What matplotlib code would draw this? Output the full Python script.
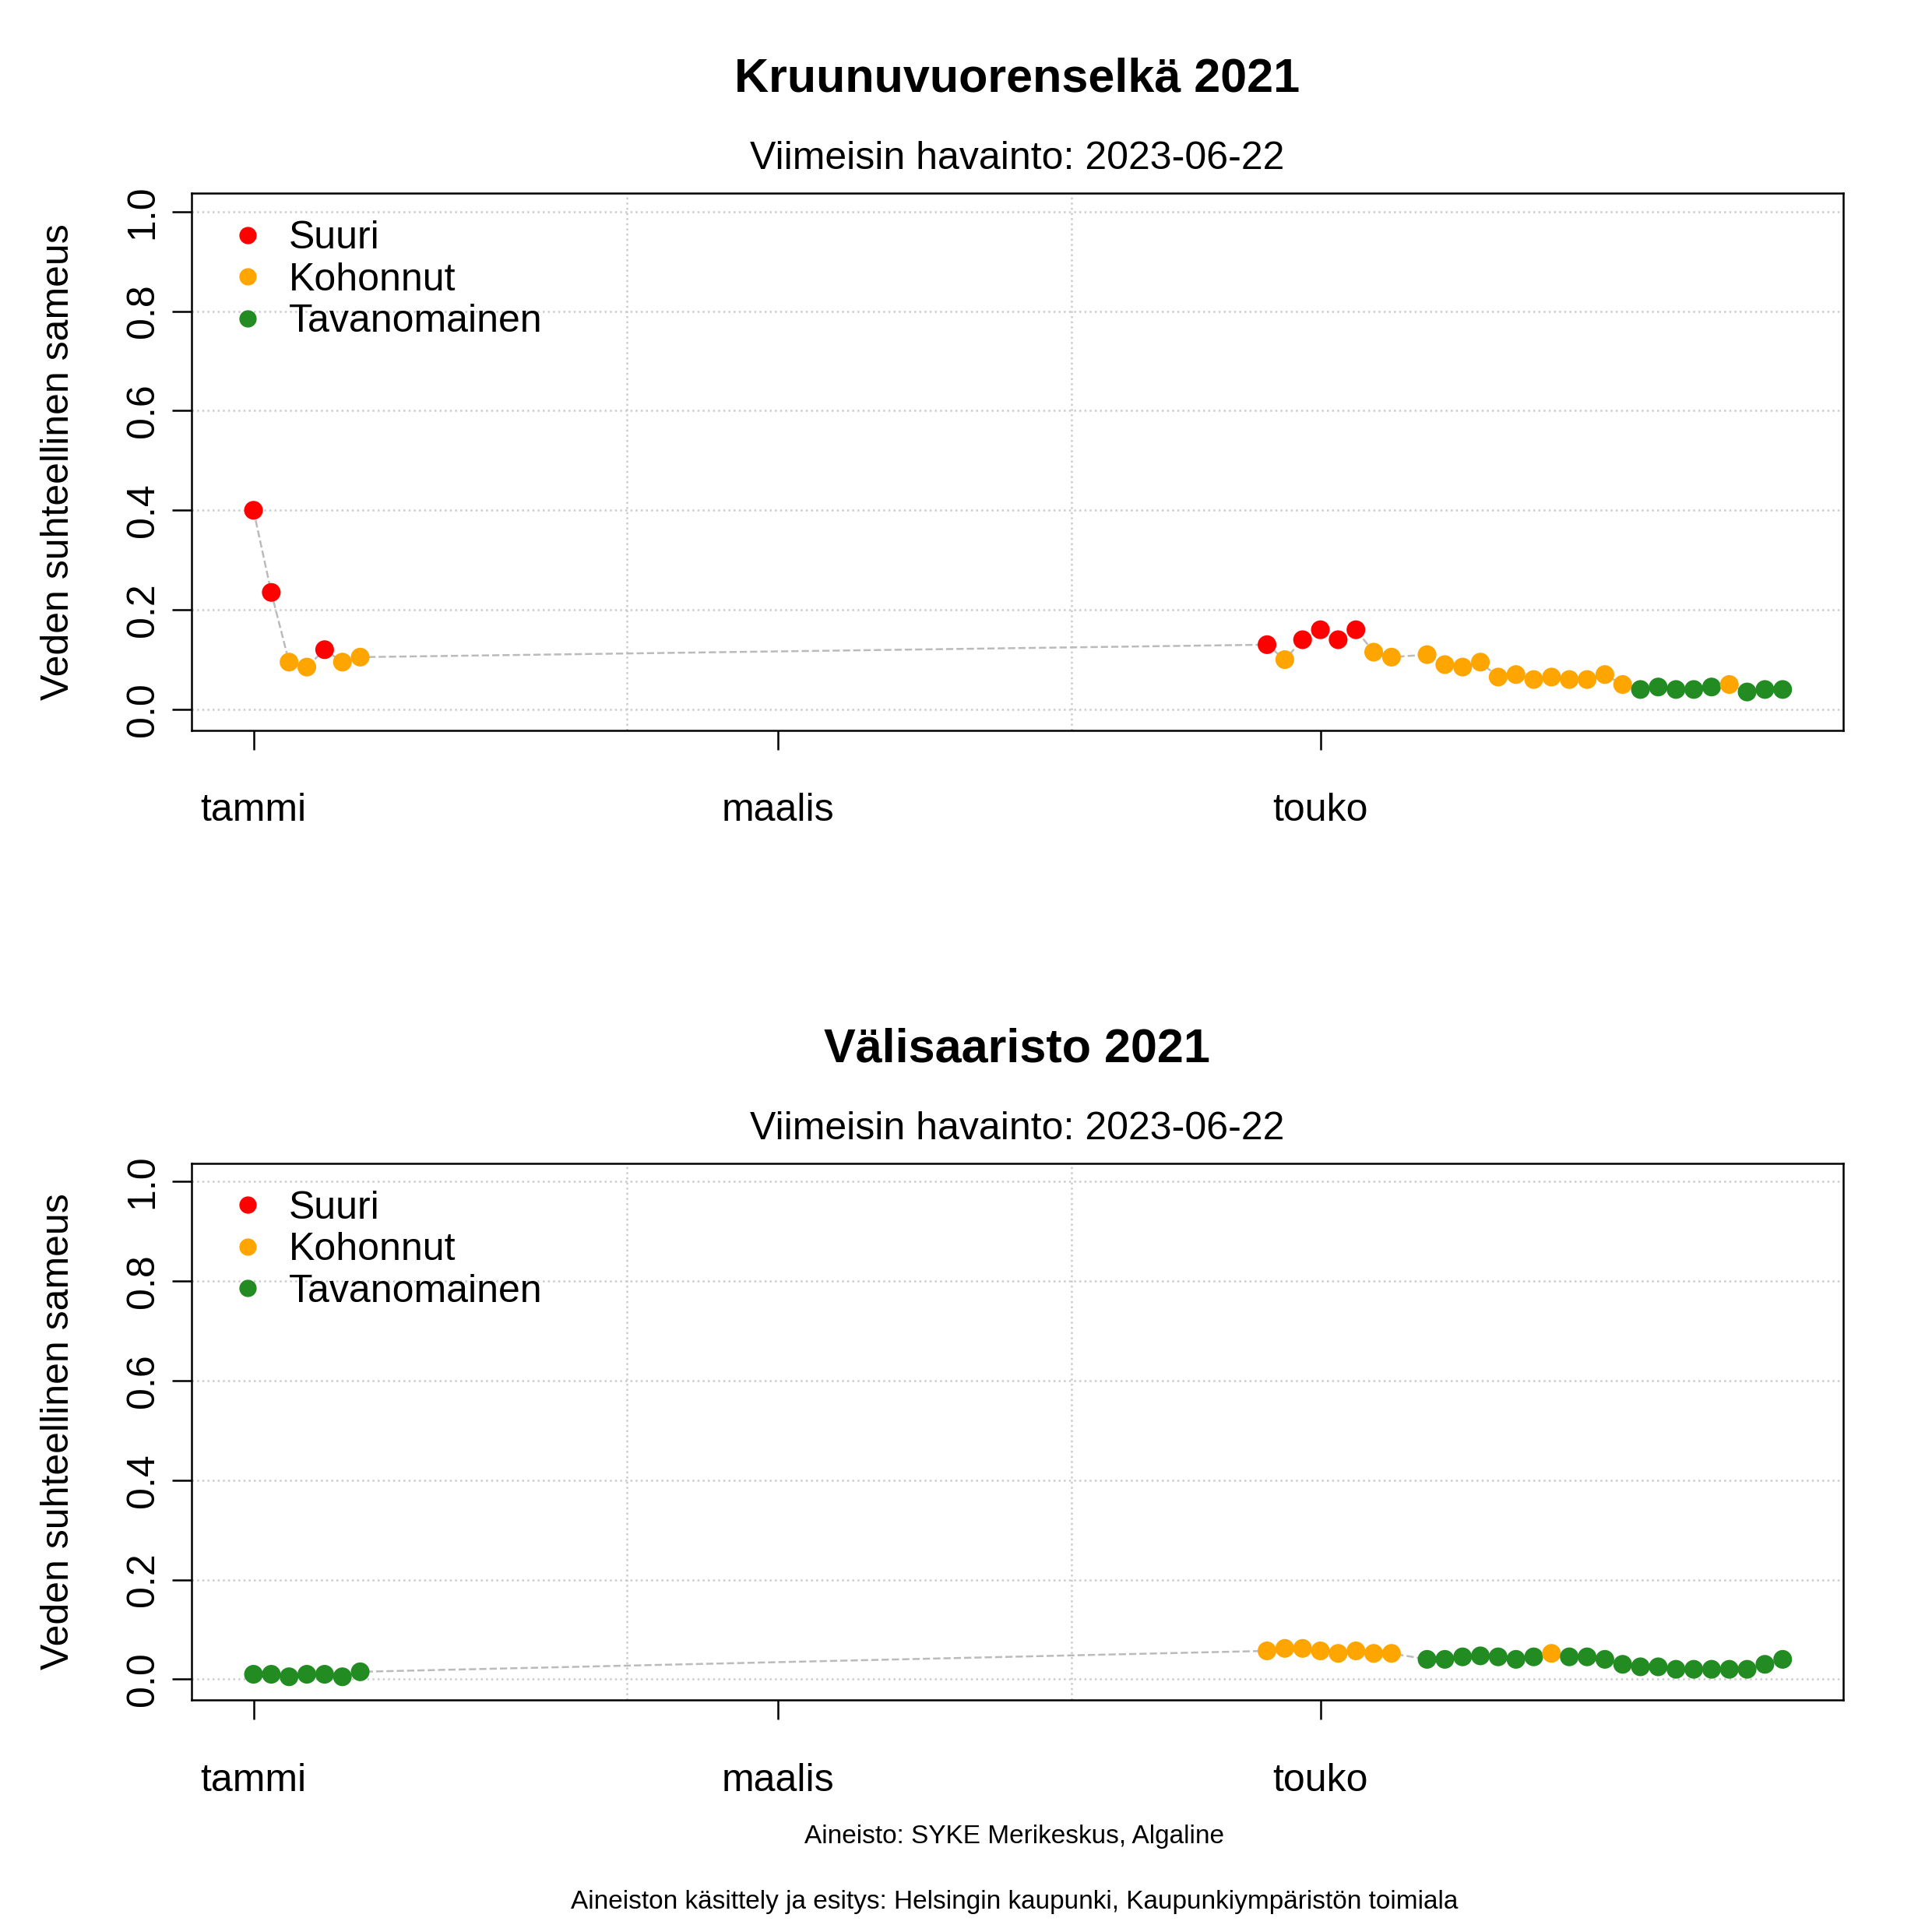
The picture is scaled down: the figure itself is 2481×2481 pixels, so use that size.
import matplotlib
matplotlib.use("Agg")
import matplotlib.pyplot as plt
from matplotlib.lines import Line2D

plt.rcParams["font.family"] = "Liberation Sans"

# day of year (0 = 1 Jan)
days = [0, 2, 4, 6, 8, 10, 12,
        114, 116, 118, 120, 122, 124, 126, 128, 132, 134, 136, 138, 140, 142,
        144, 146, 148, 150, 152, 154, 156, 158, 160, 162, 164, 166, 168, 170, 172]

kruunu_vals = [0.40, 0.235, 0.095, 0.085, 0.12, 0.095, 0.105,
               0.13, 0.10, 0.14, 0.16, 0.14, 0.16, 0.115, 0.105, 0.11, 0.09, 0.085, 0.095,
               0.065, 0.07, 0.06, 0.065, 0.06, 0.06, 0.07, 0.05, 0.04, 0.045, 0.04, 0.04,
               0.045, 0.05, 0.035, 0.04, 0.04]
kruunu_cls = ["S", "S", "K", "K", "S", "K", "K",
              "S", "K", "S", "S", "S", "S", "K", "K", "K", "K", "K", "K",
              "K", "K", "K", "K", "K", "K", "K", "K", "T", "T", "T", "T",
              "T", "K", "T", "T", "T"]

vali_vals = [0.01, 0.01, 0.005, 0.01, 0.01, 0.005, 0.015,
             0.057, 0.062, 0.062, 0.057, 0.052, 0.057, 0.052, 0.052, 0.04, 0.04, 0.045, 0.047,
             0.045, 0.04, 0.045, 0.052, 0.045, 0.045, 0.04, 0.03, 0.025, 0.025, 0.02, 0.02,
             0.02, 0.02, 0.02, 0.03, 0.04]
vali_cls = ["T"] * 7 + ["K"] * 8 + ["T"] * 7 + ["K"] + ["T"] * 13

class_labels = {"S": "Suuri", "K": "Kohonnut", "T": "Tavanomainen"}
class_colors = {"S": "#FF0000", "K": "#FFA500", "T": "#228B22"}

month_ticks = [0, 59, 120]
month_labels = ["tammi", "maalis", "touko"]
grid_x = [42, 92]
y_ticks = [0.0, 0.2, 0.4, 0.6, 0.8, 1.0]

fig = plt.figure(figsize=(24.81, 24.81), dpi=100)

panels = [("Kruunuvuorenselkä 2021", kruunu_vals, kruunu_cls, [0.099, 0.622, 0.855, 0.278]),
          ("Välisaaristo 2021", vali_vals, vali_cls, [0.099, 0.12, 0.855, 0.278])]

for title, vals, cls, rect in panels:
    ax = fig.add_axes(rect)
    ax.set_xlim(-7, 178.8)
    ax.set_ylim(-0.042, 1.037)
    for gx in grid_x:
        ax.axvline(gx, color="#cccccc", ls=":", lw=1.8)
    for gy in y_ticks:
        ax.axhline(gy, color="#cccccc", ls=":", lw=1.8)
    ax.plot(days, vals, color="#bbbbbb", ls="--", lw=1.8, zorder=2)
    ax.scatter(days, vals, c=[class_colors[c] for c in cls], s=300, zorder=3, edgecolors="none")
    ax.set_xticks(month_ticks)
    ax.set_xticklabels(month_labels, fontsize=36)
    ax.tick_params(axis="x", length=18, width=1.8, pad=40)
    ax.set_yticks(y_ticks)
    ax.set_yticklabels([f"{v:.1f}" for v in y_ticks], fontsize=36, rotation=90, va="center")
    ax.tick_params(axis="y", length=18, width=1.8, pad=10)
    for s in ax.spines.values():
        s.set_linewidth(1.8)
    ax.set_ylabel("Veden suhteellinen sameus", fontsize=36, labelpad=45)
    ax.text(0.5, 1.03, "Viimeisin havainto: 2023-06-22", transform=ax.transAxes,
            ha="center", va="bottom", fontsize=36)
    ax.text(0.5, 1.17, title, transform=ax.transAxes, ha="center", va="bottom",
            fontsize=44, fontweight="bold")
    handles = [Line2D([], [], marker="o", ls="none", color=class_colors[k], markersize=15,
                      label=class_labels[k]) for k in ["S", "K", "T"]]
    ax.legend(handles=handles, loc="upper left", frameon=False, fontsize=36,
              handletextpad=0.3, labelspacing=0.15, borderaxespad=0.3, handlelength=1.5)

fig.text(0.525, 0.046, "Aineisto: SYKE Merikeskus, Algaline", ha="center", fontsize=24)
fig.text(0.525, 0.012, "Aineiston käsittely ja esitys: Helsingin kaupunki, Kaupunkiympäristön toimiala",
         ha="center", fontsize=24)

fig.savefig("out.png", dpi=100)
